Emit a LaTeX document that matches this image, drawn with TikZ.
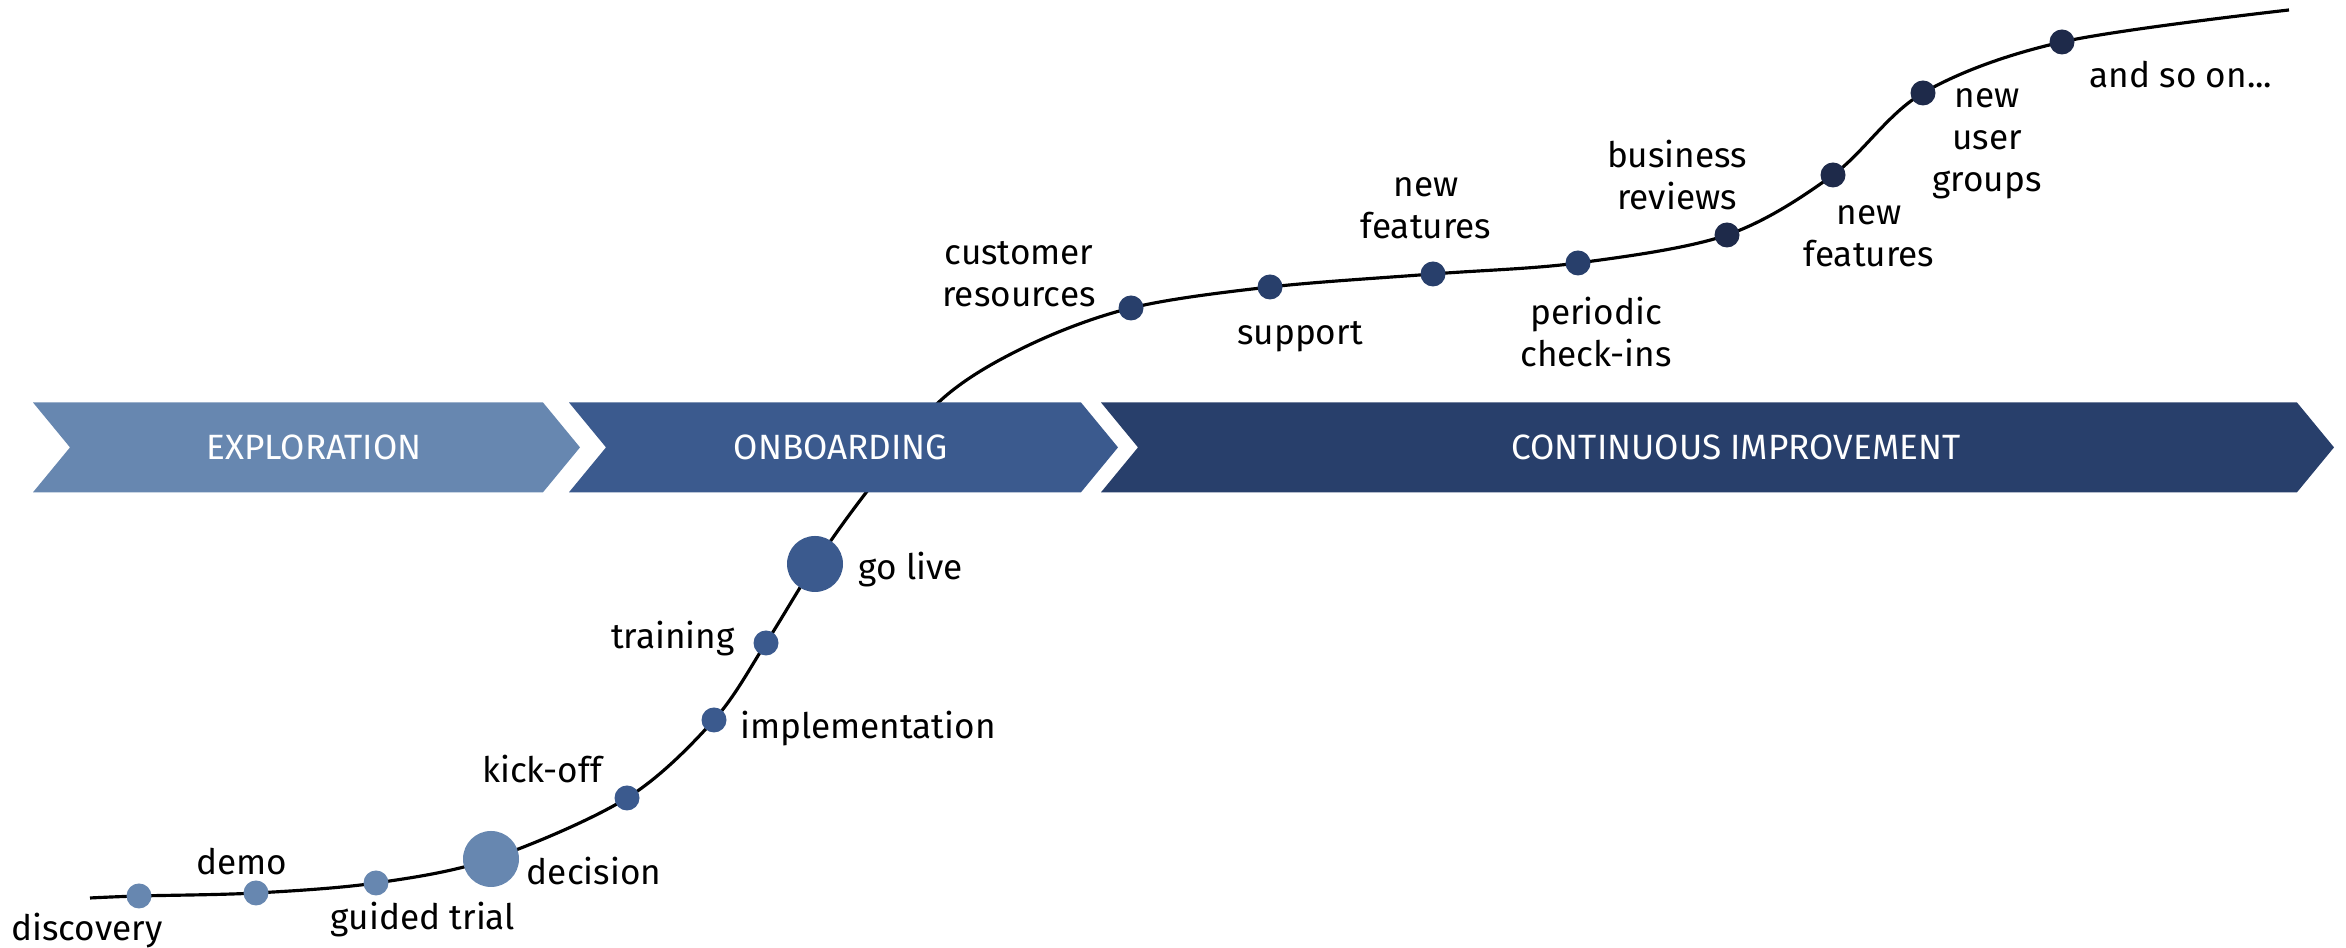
\documentclass[tikz,border=0pt]{standalone}
\usepackage{fontspec}
\setmainfont{Fira Sans}
\definecolor{explore}{HTML}{6787B0}
\definecolor{onboard}{HTML}{3B5A8E}
\definecolor{improve}{HTML}{283F6B}
\definecolor{later}{HTML}{1E2A4A}
\tikzset{
  curve/.style={line width=0.9pt, black},
  dot/.style={circle, inner sep=0pt, minimum size=0.25cm},
  bigdot/.style={circle, inner sep=0pt, minimum size=0.56cm},
  lbl/.style={font=\fontsize{10}{12}\selectfont, align=center, inner sep=0pt},
  bannertext/.style={font=\fontsize{10}{11}\selectfont, text=white, inner sep=0pt}
}
\begin{document}
\begin{tikzpicture}
    \useasboundingbox (0,0) rectangle (23.46,9.48);
    % points on the curve
    \coordinate (s0) at (0.90,0.50);
    \coordinate (p1) at (1.39,0.52);
    \coordinate (p2) at (2.56,0.55);
    \coordinate (p3) at (3.76,0.65);
    \coordinate (p4) at (4.91,0.89);
    \coordinate (p5) at (6.27,1.50);
    \coordinate (p6) at (7.14,2.28);
    \coordinate (p7) at (7.66,3.05);
    \coordinate (p8) at (8.15,3.84);
    \coordinate (b1) at (8.65,4.54);
    \coordinate (b2) at (9.40,5.47);
    \coordinate (b3) at (10.25,6.01);
    \coordinate (p9) at (11.31,6.40);
    \coordinate (p10) at (12.70,6.61);
    \coordinate (p11) at (14.33,6.74);
    \coordinate (p12) at (15.78,6.85);
    \coordinate (p13) at (17.27,7.13);
    \coordinate (p14) at (18.33,7.73);
    \coordinate (p15) at (19.23,8.55);
    \coordinate (p16) at (20.62,9.06);
    \coordinate (e0) at (22.89,9.38);
    \draw[curve] plot[smooth, tension=0.55] coordinates {(s0) (p1) (p2) (p3) (p4) (p5) (p6) (p7) (p8) (b1) (b2) (b3) (p9) (p10) (p11) (p12) (p13) (p14) (p15) (p16) (e0)};
    % phases
    \foreach \xa/\xb/\col in {0.33/5.80/explore, 5.69/11.18/onboard, 11.01/23.34/improve}
      \fill[\col] (\xa,5.455) -- (\xb-0.37,5.455) -- (\xb,5.006) -- (\xb-0.37,4.557)
        -- (\xa,4.557) -- (\xa+0.37,5.006) -- cycle;
    \node[bannertext] (expl) at (3.14,5.006) {EXPLORATION};
    \node[bannertext] (onb) at (8.41,5.006) {ONBOARDING};
    \node[bannertext] (cont) at (17.36,5.006) {CONTINUOUS IMPROVEMENT};
    % steps
    \node[dot, fill=explore] (d1) at (p1) {};
    \node[dot, fill=explore] (d2) at (p2) {};
    \node[dot, fill=explore] (d3) at (p3) {};
    \node[bigdot, fill=explore] (d4) at (p4) {};
    \node[dot, fill=onboard] (d5) at (p5) {};
    \node[dot, fill=onboard] (d6) at (p6) {};
    \node[dot, fill=onboard] (d7) at (p7) {};
    \node[bigdot, fill=onboard] (d8) at (p8) {};
    \node[dot, fill=improve] (d9) at (p9) {};
    \node[dot, fill=improve] (d10) at (p10) {};
    \node[dot, fill=improve] (d11) at (p11) {};
    \node[dot, fill=improve] (d12) at (p12) {};
    \node[dot, fill=later] (d13) at (p13) {};
    \node[dot, fill=later] (d14) at (p14) {};
    \node[dot, fill=later] (d15) at (p15) {};
    \node[dot, fill=later] (d16) at (p16) {};
    % labels
    \node[lbl] (discovery) at (0.87,0.17) {discovery};
    \node[lbl] (demo) at (2.42,0.86) {demo};
    \node[lbl] (trial) at (4.23,0.28) {guided trial};
    \node[lbl] (decision) at (5.94,0.77) {decision};
    \node[lbl] (kickoff) at (5.42,1.79) {kick-off};
    \node[lbl] (implement) at (8.68,2.19) {implementation};
    \node[lbl] (training) at (6.73,3.09) {training};
    \node[lbl] (golive) at (9.11,3.78) {go live};
    \node[lbl] (resources) at (10.19,6.74) {customer\\resources};
    \node[lbl] (support) at (13.00,6.11) {support};
    \node[lbl] (features) at (14.26,7.40) {new\\features};
    \node[lbl] (checkins) at (15.96,6.16) {periodic\\check-ins};
    \node[lbl] (reviews) at (16.77,7.73) {business\\reviews};
    \node[lbl] (features2) at (18.69,7.12) {new\\features};
    \node[lbl] (groups) at (19.87,8.04) {new\\user\\groups};
    \node[lbl] (soon) at (21.81,8.73) {and so on...};
\end{tikzpicture}
\end{document}
